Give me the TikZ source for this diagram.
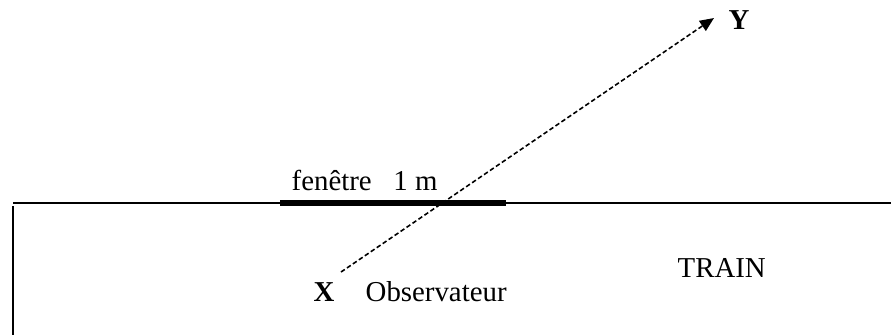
\documentclass[tikz,border=0pt]{standalone}
\usepackage{fontspec}
\setmainfont{Liberation Serif}
\usetikzlibrary{arrows.meta}
\tikzset{
  lbl/.style={inner sep=0pt,font=\fontsize{8.2pt}{9pt}\selectfont},
  ray/.style={line width=0.45pt,dash pattern=on 1.3pt off 0.75pt,-{Triangle[length=4pt,width=3.4pt]}}
}

\begin{document}
\begin{tikzpicture}[x=0.01cm,y=-0.01cm]
\useasboundingbox (0,0) rectangle (891,335);
\draw[line width=0.4pt] (13,203)--(891,203);
\draw[line width=0.45pt] (13,206)--(13,335);
\draw[line width=1.5pt] (280,203)--(506,203);
\node[lbl,anchor=base west] (fen) at (291,190) {fenêtre\hspace{0.75em}1 m};
\node[lbl,anchor=base west,font=\fontsize{8.2pt}{9pt}\selectfont\bfseries] (X) at (313,301) {X};
\node[lbl,anchor=base west] (obs) at (365,301) {Observateur};
\node[lbl,anchor=base west] (train) at (677,277) {TRAIN};
\node[lbl,anchor=base west,font=\fontsize{8.2pt}{9pt}\selectfont\bfseries] (Y) at (728,29) {Y};
\coordinate (start) at (341,272);
\coordinate (tip) at (714,18);
\draw[ray] (start)--(tip);
\end{tikzpicture}
\end{document}
